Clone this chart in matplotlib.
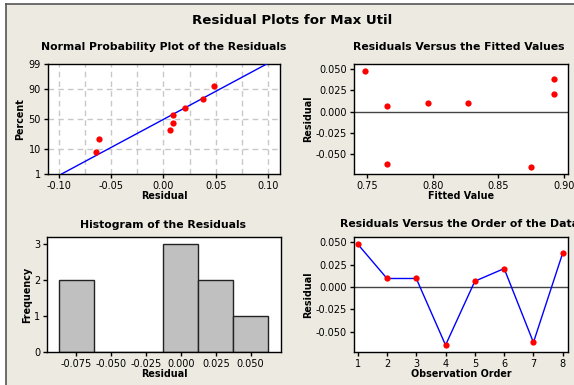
import numpy as np
import matplotlib
matplotlib.use("Agg")
import matplotlib.pyplot as plt
from matplotlib.lines import Line2D
from matplotlib.patches import Rectangle
from statistics import NormalDist

# residuals and fitted values, in observation order
observation = [1, 2, 3, 4, 5, 6, 7, 8]
residuals = [0.048, 0.0095, 0.0095, -0.065, 0.0065, 0.0206, -0.062, 0.038]
fitted = [0.748, 0.796, 0.827, 0.875, 0.7655, 0.892, 0.7655, 0.892]

# normal plot positions (median ranks, percent)
percents = [8.3, 20.2, 32.1, 44.0, 56.0, 67.9, 79.8, 91.7]
pct_ticks = [1, 10, 50, 90, 99]

# histogram bins
hist_mids = [-0.075, -0.050, -0.025, 0.000, 0.025, 0.050]
hist_counts = [2, 0, 0, 3, 2, 1]

W, H = 574, 385
BG = "#EDEAE1"
RED = "#FF0000"
BLUE = "#0000FF"
TICK_FS = 7
LABEL_FS = 6.9
TITLE_FS = 7.8
plt.rcParams["font.family"] = "DejaVu Sans"
plt.rcParams["axes.linewidth"] = 1.0
plt.rcParams["xtick.major.size"] = 3
plt.rcParams["ytick.major.size"] = 3
plt.rcParams["xtick.major.pad"] = 2
plt.rcParams["ytick.major.pad"] = 2

fig = plt.figure(figsize=(W / 100, H / 100), dpi=100, facecolor="white")

# beige panel with a dark border on the left and top
fig.add_artist(Rectangle((6 / W, 0), 1, 1 - 4 / H, transform=fig.transFigure,
                         facecolor=BG, edgecolor="none", zorder=0))
fig.add_artist(Line2D([6 / W, 6 / W], [0, 1 - 4 / H], transform=fig.transFigure,
                      color="#555555", lw=1.2))
fig.add_artist(Line2D([6 / W, 1], [1 - 4 / H, 1 - 4 / H], transform=fig.transFigure,
                      color="#555555", lw=1.2))


def px_axes(left, right, top, bottom):
    ax = fig.add_axes([left / W, (H - bottom) / H, (right - left) / W, (bottom - top) / H])
    ax.set_facecolor("white")
    ax.tick_params(labelsize=TICK_FS, colors="black", width=1)
    ax._px = (left, right, top, bottom)
    return ax


def px_labels(ax, xlabel, ylabel, xlab_y, ylab_x):
    # place axis labels at given pixel centres
    left, right, top, bottom = ax._px
    ax.set_xlabel(xlabel, fontsize=LABEL_FS, fontweight="bold")
    ax.set_ylabel(ylabel, fontsize=LABEL_FS, fontweight="bold")
    ax.xaxis.label.set_va("center")
    ax.yaxis.label.set_va("center")
    ax.xaxis.set_label_coords(0.5, -(xlab_y - bottom) / (bottom - top))
    ax.yaxis.set_label_coords(-(left - ylab_x) / (right - left), 0.5)


def px_text(x, y, s, size, ha="center"):
    fig.text(x / W, 1 - y / H, s, fontsize=size, fontweight="bold", ha=ha, va="center")


px_text(292, 21, "Residual Plots for Max Util", 9.6)

# normal probability plot
z = lambda p: NormalDist().inv_cdf(p / 100)
ax1 = px_axes(48, 280, 64, 174)
res_sorted = np.sort(residuals)
ax1.plot(res_sorted, [z(p) for p in percents], "o", color=RED, ms=4.5, mec="none", zorder=4)
mu, sd = np.mean(residuals), np.std(residuals, ddof=1)
zl = np.array([z(1), z(99)])
ax1.plot(mu + sd * zl, zl, color=BLUE, lw=1, zorder=3)
ax1.set_xlim(-0.1105, 0.1115)
ax1.set_ylim(z(1), z(99))
ax1.set_xticks([-0.10, -0.05, 0.00, 0.05, 0.10])
ax1.set_xticklabels(["-0.10", "-0.05", "0.00", "0.05", "0.10"])
ax1.set_yticks([z(p) for p in pct_ticks])
ax1.set_yticklabels([str(p) for p in pct_ticks])
for gx in np.arange(-0.1, 0.1001, 0.025):
    ax1.axvline(gx, color="#C8C8C8", lw=1, ls=(0, (4, 3)), zorder=1)
for gp in [10, 50, 90]:
    ax1.axhline(z(gp), color="#C8C8C8", lw=1, ls=(0, (4, 3)), zorder=1)
px_labels(ax1, "Residual", "Percent", 196, 20)
px_text(164, 47, "Normal Probability Plot of the Residuals", TITLE_FS)

# residuals versus fitted values
ax2 = px_axes(354, 568, 64, 174)
ax2.axhline(0, color="#444444", lw=1, zorder=1)
ax2.plot(fitted, residuals, "o", color=RED, ms=4.5, mec="none", zorder=4)
ax2.set_xlim(0.740, 0.903)
ax2.set_ylim(-0.0735, 0.0559)
ax2.set_xticks([0.75, 0.80, 0.85, 0.90])
ax2.set_xticklabels(["0.75", "0.80", "0.85", "0.90"])
ax2.set_yticks([0.05, 0.025, 0.0, -0.025, -0.05])
ax2.set_yticklabels(["0.050", "0.025", "0.000", "-0.025", "-0.050"])
px_labels(ax2, "Fitted Value", "Residual", 196, 308)
px_text(459, 47, "Residuals Versus the Fitted Values", TITLE_FS)

# histogram
ax3 = px_axes(47, 281, 237, 352)
ax3.bar(hist_mids, hist_counts, width=0.025, color="#C0C0C0", edgecolor="#222222", lw=1, zorder=2)
ax3.set_xlim(-0.0958, 0.0717)
ax3.set_ylim(0, 3.19)
ax3.set_xticks(hist_mids)
ax3.set_xticklabels(["-0.075", "-0.050", "-0.025", "0.000", "0.025", "0.050"])
ax3.set_yticks([0, 1, 2, 3])
px_labels(ax3, "Residual", "Frequency", 374, 27)
px_text(163, 225, "Histogram of the Residuals", TITLE_FS)

# residuals versus observation order
ax4 = px_axes(354, 568, 237, 352)
ax4.axhline(0, color="#444444", lw=1, zorder=1)
ax4.plot(observation, residuals, color=BLUE, lw=1, zorder=3)
ax4.plot(observation, residuals, "o", color=RED, ms=4.5, mec="none", zorder=4)
ax4.set_xlim(0.874, 8.18)
ax4.set_ylim(-0.0727, 0.0559)
ax4.set_xticks(observation)
ax4.set_yticks([0.05, 0.025, 0.0, -0.025, -0.05])
ax4.set_yticklabels(["0.050", "0.025", "0.000", "-0.025", "-0.050"])
px_labels(ax4, "Observation Order", "Residual", 374, 308)
px_text(340, 224, "Residuals Versus the Order of the Data", TITLE_FS, ha="left")

fig.savefig("out.png", dpi=100, facecolor=fig.get_facecolor())
